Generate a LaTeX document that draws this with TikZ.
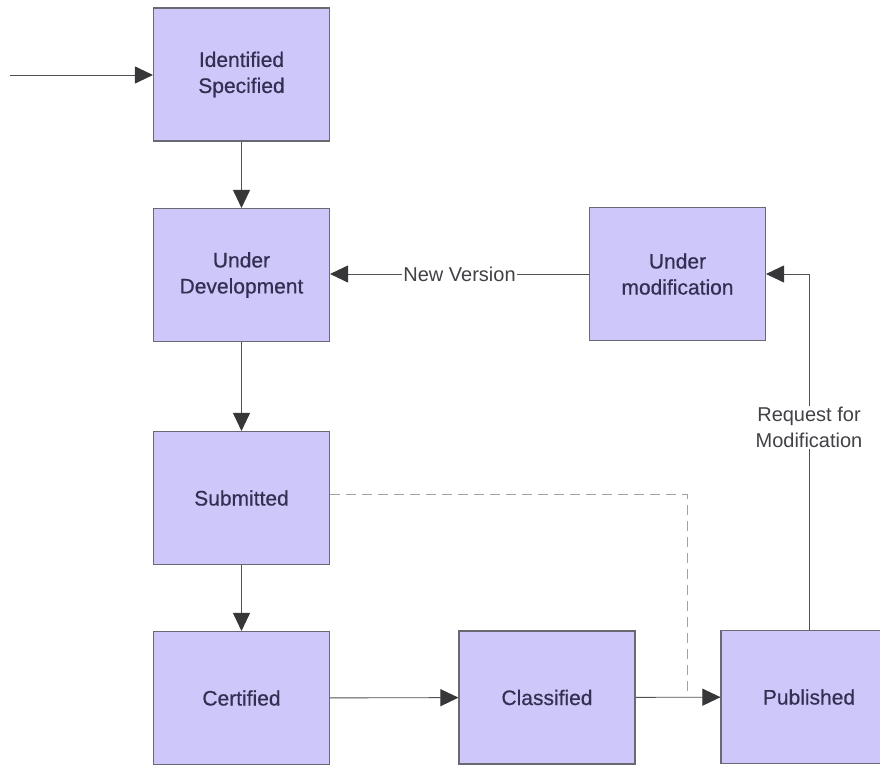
\documentclass[tikz,border=0pt]{standalone}
\usepackage{fontspec}
\setmainfont{Liberation Sans}
\newfontfamily\statefont{Liberation Sans}[FakeBold=0.5]
\usetikzlibrary{arrows.meta}

\definecolor{boxfill}{RGB}{206,200,250}
\definecolor{boxline}{RGB}{105,105,115}
\definecolor{boxtext}{RGB}{50,48,82}
\definecolor{wire}{RGB}{80,80,85}
\definecolor{tipcol}{RGB}{55,55,58}
\definecolor{labeltext}{RGB}{65,65,70}
\definecolor{dashwire}{RGB}{160,160,165}

\begin{document}
\begin{tikzpicture}[x=1bp,y=-1bp,
  state/.style={draw=boxline, line width=1.1bp, fill=boxfill,
    minimum width=176bp, minimum height=133bp, inner sep=0pt,
    align=center, text=boxtext,
    font=\statefont\fontsize{21bp}{26bp}\selectfont},
  flow/.style={draw=wire, line width=0.9bp,
    -{Triangle[length=18bp,width=17bp,color=tipcol]}},
  flowlabel/.style={fill=white, inner sep=1bp, text=labeltext,
    align=center, font=\fontsize{20bp}{26bp}\selectfont},
  weak/.style={draw=dashwire, line width=1bp, dash pattern=on 10bp off 6bp}
]
\useasboundingbox (0,0) rectangle (880,766);

% lifecycle states
\node[state] (ident) at (241.5,74.5)  {Identified\\Specified};
\node[state] (udev)  at (241.5,275)   {Under\\Development};
\node[state] (subm)  at (241.5,498)   {Submitted};
\node[state] (cert)  at (241.5,698)   {Certified};
\node[state] (class) at (547,697.5)   {Classified};
\node[state] (publ)  at (809,697)     {Published};
\node[state] (umod)  at (677.5,274)   {Under\\modification};

% entry point
\coordinate (start) at (10,75);
\draw[flow] (start) -- (ident.west |- start);

% main chain
\draw[flow] (ident) -- (udev);
\draw[flow] (udev) -- (subm);
\draw[flow] (subm) -- (cert);
\draw[flow] (cert) -- (class);
\draw[flow] (class) -- (publ);

% optional direct publication after submission
\coordinate (bend) at (687,494);
\draw[weak] (subm.east |- bend) -- (bend) -- (bend |- publ.west);

% modification loop
\draw[flow] (publ.north) |- (umod.east)
  node[flowlabel, pos=0.284] (req) {Request for\\Modification};
\draw[flow] (umod.west) -- (udev.east |- umod.west)
  node[flowlabel, pos=0.5] (newv) {New Version};
\end{tikzpicture}
\end{document}
